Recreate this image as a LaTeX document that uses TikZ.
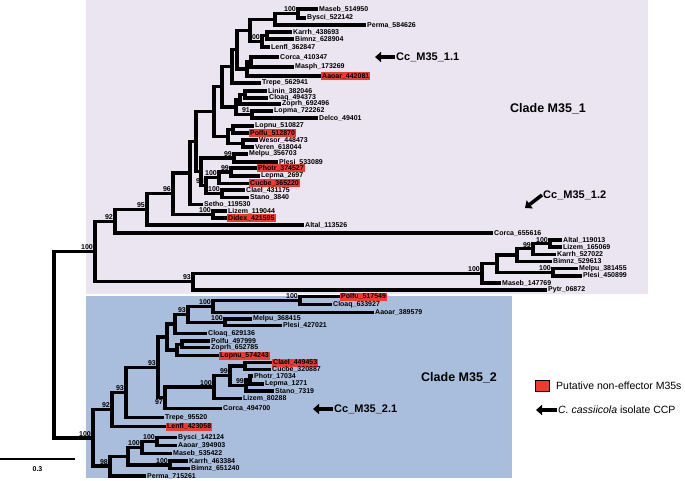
\documentclass[tikz,border=0pt]{standalone}
\usepackage{fontspec}
\setmainfont{Liberation Sans}
\usepackage{tikz}
\usetikzlibrary{arrows.meta,positioning}
\definecolor{cladeA}{HTML}{EAE5F1}
\definecolor{cladeB}{HTML}{A9BEDC}
\definecolor{hlred}{HTML}{EE3B2F}
\newcommand{\leaffont}{\fontsize{7}{8}\selectfont\bfseries}
\tikzset{
  branch/.style={line width=3.4pt, line join=miter},
  leaf/.style={anchor=west, inner sep=1pt, font=\leaffont},
  redleaf/.style={leaf, fill=hlred},
  supp/.style={anchor=south east, inner sep=0.5pt, font=\leaffont, xshift=-1.5pt, yshift=1pt},
  suppbelow/.style={anchor=north east, inner sep=0.5pt, font=\leaffont, xshift=-1.5pt, yshift=-1pt},
  cclab/.style={anchor=west, inner sep=1pt, font=\fontsize{11}{13}\selectfont\bfseries},
  cladelab/.style={anchor=west, inner sep=1pt, font=\fontsize{12.5}{15}\selectfont\bfseries},
  legtxt/.style={anchor=west, inner sep=1pt, font=\fontsize{10.5}{12}\selectfont},
  ccarrow/.style={-{Triangle[length=6pt,width=10pt]}, line width=3.5pt},
}

\begin{document}
\begin{tikzpicture}[x=1pt,y=-1pt]
  \useasboundingbox (0,0) rectangle (685,481);
  % clade backgrounds
  \fill[cladeA] (86,0) rectangle (648,294);
  \fill[cladeB] (86,296) rectangle (512,478);

  % Clade M35_1 leaves
  \node[leaf] (maseb514) at (318,9) {Maseb\_514950};
  \node[leaf] (bysci522) at (306,18) {Bysci\_522142};
  \node[leaf] (perma584) at (366,25) {Perma\_584626};
  \node[leaf] (karrh438) at (292,32) {Karrh\_438693};
  \node[leaf] (bimnz628) at (294,39) {Bimnz\_628904};
  \node[leaf] (lenfl362) at (270,47) {Lenfl\_362847};
  \node[leaf] (corca410) at (279,57) {Corca\_410347};
  \node[leaf] (masph173) at (294,67) {Masph\_173269};
  \node[redleaf] (aaoar442) at (321,76) {Aaoar\_442081};
  \node[leaf] (trepe562) at (261,83) {Trepe\_562941};
  \node[leaf] (linin382) at (267,91) {Linin\_382046};
  \node[leaf] (cloaq494) at (268,98) {Cloaq\_494373};
  \node[leaf] (zoprh692) at (281,104) {Zoprh\_692496};
  \node[leaf] (lopma722) at (273,111) {Lopma\_722262};
  \node[leaf] (delco494) at (318,118) {Delco\_49401};
  \node[leaf] (lopnu510) at (254,126) {Lopnu\_510827};
  \node[redleaf] (polfu512) at (249,133) {Polfu\_512870};
  \node[leaf] (wesor448) at (258,140) {Wesor\_448473};
  \node[leaf] (veren618) at (254,147) {Veren\_618044};
  \node[leaf] (melpu356) at (248,154) {Melpu\_356703};
  \node[leaf] (plesi533) at (278,162) {Plesi\_533089};
  \node[redleaf] (photr374) at (257,168) {Photr\_374527};
  \node[leaf] (lepma269) at (260,176) {Lepma\_2697};
  \node[redleaf] (cucbe365) at (249,183.3) {Cucbe\_365220};
  \node[leaf] (clael431) at (245,190) {Clael\_431175};
  \node[leaf] (stano384) at (249,197.3) {Stano\_3840};
  \node[leaf] (setho119) at (203,204.3) {Setho\_119530};
  \node[leaf] (lizem119) at (227,211) {Lizem\_119044};
  \node[redleaf] (didex421) at (227,218) {Didex\_421595};
  \node[leaf] (altal113) at (304,225) {Altal\_113526};
  \node[leaf] (corca655) at (493,233) {Corca\_655616};
  \node[leaf] (altal119) at (562,240) {Altal\_119013};
  \node[leaf] (lizem165) at (562,247) {Lizem\_165069};
  \node[leaf] (karrh527) at (556,254.2) {Karrh\_527022};
  \node[leaf] (bimnz529) at (552,261.4) {Bimnz\_529613};
  \node[leaf] (melpu381) at (578,268.6) {Melpu\_381455};
  \node[leaf] (plesi450) at (582,275.8) {Plesi\_450899};
  \node[leaf] (maseb147) at (501,283) {Maseb\_147769};
  \node[leaf] (pytr068) at (547,290) {Pytr\_06872};

  % Clade M35_1 inner nodes
  \coordinate (n298) at (298,13.5);
  \coordinate (n275) at (275,19.25);
  \coordinate (n267) at (267,35.5);
  \coordinate (n262) at (262,41.25);
  \coordinate (n250) at (250,30.25);
  \coordinate (n251) at (251,62);
  \coordinate (n247) at (247,69);
  \coordinate (n237) at (237,49.6);
  \coordinate (n232) at (232,66.3);
  \coordinate (n245) at (245,94.5);
  \coordinate (n240) at (240,99.25);
  \coordinate (n252) at (252,114.5);
  \coordinate (n236) at (236,106.9);
  \coordinate (n222) at (222,86.6);
  \coordinate (n233) at (233,129.5);
  \coordinate (n243) at (243,143.5);
  \coordinate (n228) at (228,136.5);
  \coordinate (n214) at (214,111.55);
  \coordinate (n234) at (234,158);
  \coordinate (n231) at (231,172);
  \coordinate (n219) at (219,177.65);
  \coordinate (n224) at (222,193.65);
  \coordinate (n206) at (206,185.65);
  \coordinate (n201) at (201,171.8);
  \coordinate (n196) at (196,141.7);
  \coordinate (n190) at (190,173);
  \coordinate (n213) at (213,214.5);
  \coordinate (n173) at (173,193.75);
  \coordinate (n147) at (147,209.4);
  \coordinate (n115) at (115,221.2);
  \coordinate (n541) at (550,243.5);
  \coordinate (n533) at (533,248.75);
  \coordinate (n517) at (517,255.1);
  \coordinate (nmp) at (553,272.2);
  \coordinate (n497) at (497,263.6);
  \coordinate (n482) at (482,273.3);
  \coordinate (n193) at (193,281.6);
  \coordinate (n095) at (95,251.4);

  % Clade M35_2 leaves
  \node[redleaf] (polfu517) at (340,296.7) {Polfu\_517549};
  \node[leaf] (cloaq633) at (332,304.3) {Cloaq\_633927};
  \node[leaf] (aaoar389) at (374,312.3) {Aaoar\_389579};
  \node[leaf] (melpu368) at (252,319) {Melpu\_368415};
  \node[leaf] (plesi427) at (282,325.7) {Plesi\_427021};
  \node[leaf] (cloaq629) at (207,333.3) {Cloaq\_629136};
  \node[leaf] (polfu497) at (210,341) {Polfu\_497999};
  \node[leaf] (zoprh652) at (210,347.7) {Zoprh\_652785};
  \node[redleaf] (lopnu574) at (219,355.7) {Lopnu\_574243};
  \node[redleaf] (clael449) at (272,362.7) {Clael\_449453};
  \node[leaf] (cucbe320) at (271,369.3) {Cucbe\_320887};
  \node[leaf] (photr170) at (253,376) {Photr\_17034};
  \node[leaf] (lepma127) at (264,384) {Lepma\_1271};
  \node[leaf] (stano731) at (274,391) {Stano\_7319};
  \node[leaf] (lizem802) at (242,398.3) {Lizem\_80288};
  \node[leaf] (corca494) at (222,408.3) {Corca\_494700};
  \node[leaf] (trepe955) at (164,417.3) {Trepe\_95520};
  \node[redleaf] (lenfl423) at (166,426.7) {Lenfl\_423058};
  \node[leaf] (bysci142) at (177,437.7) {Bysci\_142124};
  \node[leaf] (aaoar394) at (177,445.7) {Aaoar\_394903};
  \node[leaf] (maseb535) at (172,453.3) {Maseb\_535422};
  \node[leaf] (karrh463) at (188,461) {Karrh\_463384};
  \node[leaf] (bimnz651) at (190,468.7) {Bimnz\_651240};
  \node[leaf] (perma715) at (146,476) {Perma\_715261};

  % Clade M35_2 inner nodes
  \coordinate (b300) at (300,300.5);
  \coordinate (b213) at (213,306.4);
  \coordinate (b225) at (225,322.35);
  \coordinate (b188) at (188,314.4);
  \coordinate (b175) at (175,323.85);
  \coordinate (b182) at (182,344.35);
  \coordinate (b177) at (177,350);
  \coordinate (b167) at (167,336.9);
  \coordinate (bcc) at (245,366);
  \coordinate (bpl) at (250,380);
  \coordinate (bpls) at (246,385.5);
  \coordinate (b230) at (230,375.75);
  \coordinate (b214) at (214,387);
  \coordinate (b165) at (165,397.65);
  \coordinate (b158) at (158,367.3);
  \coordinate (b126) at (126,392.3);
  \coordinate (b112) at (112,409.5);
  \coordinate (bba) at (157,441.7);
  \coordinate (b142) at (142,447.5);
  \coordinate (bkb) at (170,464.85);
  \coordinate (b128) at (128,456.2);
  \coordinate (b110) at (110,466.1);
  \coordinate (b093) at (93,437.8);
  \coordinate (root) at (54,344.6);

  % branches to leaves
  \foreach \p/\c in {n298/maseb514, n298/bysci522, n275/perma584, n267/karrh438,
      n267/bimnz628, n262/lenfl362, n251/corca410, n251/masph173, n247/aaoar442,
      n232/trepe562, n245/linin382, n245/cloaq494, n240/zoprh692, n252/lopma722,
      n252/delco494, n233/lopnu510, n233/polfu512, n243/wesor448, n243/veren618,
      n234/melpu356, n234/plesi533, n231/photr374, n231/lepma269, n219/cucbe365,
      n224/clael431, n224/stano384, n190/setho119, n213/lizem119, n213/didex421,
      n147/altal113, n115/corca655, n541/altal119, n541/lizem165, n533/karrh527,
      n517/bimnz529, nmp/melpu381, nmp/plesi450, n482/maseb147, n193/pytr068,
      b300/polfu517, b300/cloaq633, b213/aaoar389, b225/melpu368, b225/plesi427,
      b175/cloaq629, b182/polfu497, b182/zoprh652, b177/lopnu574, bcc/clael449,
      bcc/cucbe320, bpl/photr170, bpl/lepma127, bpls/stano731, b214/lizem802,
      b165/corca494, b126/trepe955, b112/lenfl423, bba/bysci142, bba/aaoar394,
      b142/maseb535, bkb/karrh463, bkb/bimnz651, b110/perma715}
    \draw[branch] (\p) |- (\c.west);
  % branches between inner nodes
  \foreach \p/\c in {n275/n298, n262/n267, n250/n275, n250/n262, n247/n251,
      n237/n250, n237/n247, n232/n237, n240/n245, n236/n240, n236/n252,
      n222/n232, n222/n236, n228/n233, n228/n243, n214/n222, n214/n228,
      n219/n231, n206/n219, n206/n224, n201/n234, n201/n206, n196/n214,
      n196/n201, n190/n196, n173/n190, n173/n213, n147/n173, n115/n147,
      n533/n541, n517/n533, n497/n517, n497/nmp, n482/n497, n193/n482,
      n095/n115, n095/n193,
      b213/b300, b188/b213, b188/b225, b175/b188, b177/b182, b167/b175,
      b167/b177, bpls/bpl, b230/bcc, b230/bpls, b214/b230, b165/b214,
      b158/b167, b158/b165, b126/b158, b112/b126, b142/bba, b128/b142,
      b128/bkb, b110/b128, b093/b112, b093/b110, root/n095, root/b093}
    \draw[branch] (\p) |- (\c);

  % support values
  \node[supp] at (n298) {100};
  \node[supp] at (n262) {100};
  \node[supp] at (n252) {91};
  \node[supp] at (n234) {99};
  \node[supp] at (n231) {99};
  \node[supp] at (n219) {100};
  \node[supp] at (n206) {98};
  \node[supp] at (n224) {100};
  \node[supp] at (n213) {100};
  \node[supp] at (n173) {96};
  \node[supp] at (n147) {95};
  \node[supp] at (n115) {92};
  \node[supp, yshift=-0.6pt] at (n541) {100};
  \node[supp, yshift=-0.5pt] at (n533) {99};
  \node[supp] at (nmp) {100};
  \node[supp] at (n482) {100};
  \node[supp] at (n193) {93};
  \node[supp] at (n095) {100};
  \node[supp] at (b300) {100};
  \node[supp] at (b213) {100};
  \node[supp] at (b225) {100};
  \node[supp] at (b188) {93};
  \node[supp] at (bpls) {99};
  \node[supp] at (b230) {99};
  \node[supp] at (b214) {100};
  \node[suppbelow] at (b165) {97};
  \node[supp] at (b158) {93};
  \node[supp] at (b126) {93};
  \node[supp] at (b112) {92};
  \node[supp] at (bba) {100};
  \node[supp] at (b142) {100};
  \node[supp] at (bkb) {100};
  \node[supp] at (b110) {98};
  \node[supp] at (b093) {100};

  % isolate arrows and clade names
  \node[cclab] (cc11) at (395,57) {Cc\_M35\_1.1};
  \coordinate (cc11tip) at (375,57);
  \draw[ccarrow] (cc11.west) -- (cc11tip);
  \node[cclab] (cc12) at (542,195) {Cc\_M35\_1.2};
  \coordinate (cc12tip) at (525,208);
  \draw[ccarrow] (cc12.west) -- (cc12tip);
  \node[cclab] (cc21) at (333,409) {Cc\_M35\_2.1};
  \coordinate (cc21tip) at (313,409);
  \draw[ccarrow] (cc21.west) -- (cc21tip);
  \node[cladelab] (cladeA) at (509,109) {Clade M35\_1};
  \node[cladelab] (cladeB) at (420,378) {Clade M35\_2};

  % legend
  \node[draw=black, fill=hlred, minimum width=14pt, minimum height=11pt, inner sep=0pt] (legbox) at (542.5,386) {};
  \node[legtxt] (legred) at (555,386) {Putative non-effector M35s};
  \node[legtxt] (legcc) at (557,410) {\textit{C. cassiicola} isolate CCP};
  \coordinate (legtip) at (536,410);
  \draw[ccarrow] (legcc.west) -- (legtip);

  % scale bar
  \coordinate (sb0) at (0,459);
  \coordinate (sb1) at (75,459);
  \draw[line width=2.5pt] (sb0) -- (sb1);
  \node[font=\leaffont] (sblab) at (37.5,469) {0.3};
\end{tikzpicture}
\end{document}
